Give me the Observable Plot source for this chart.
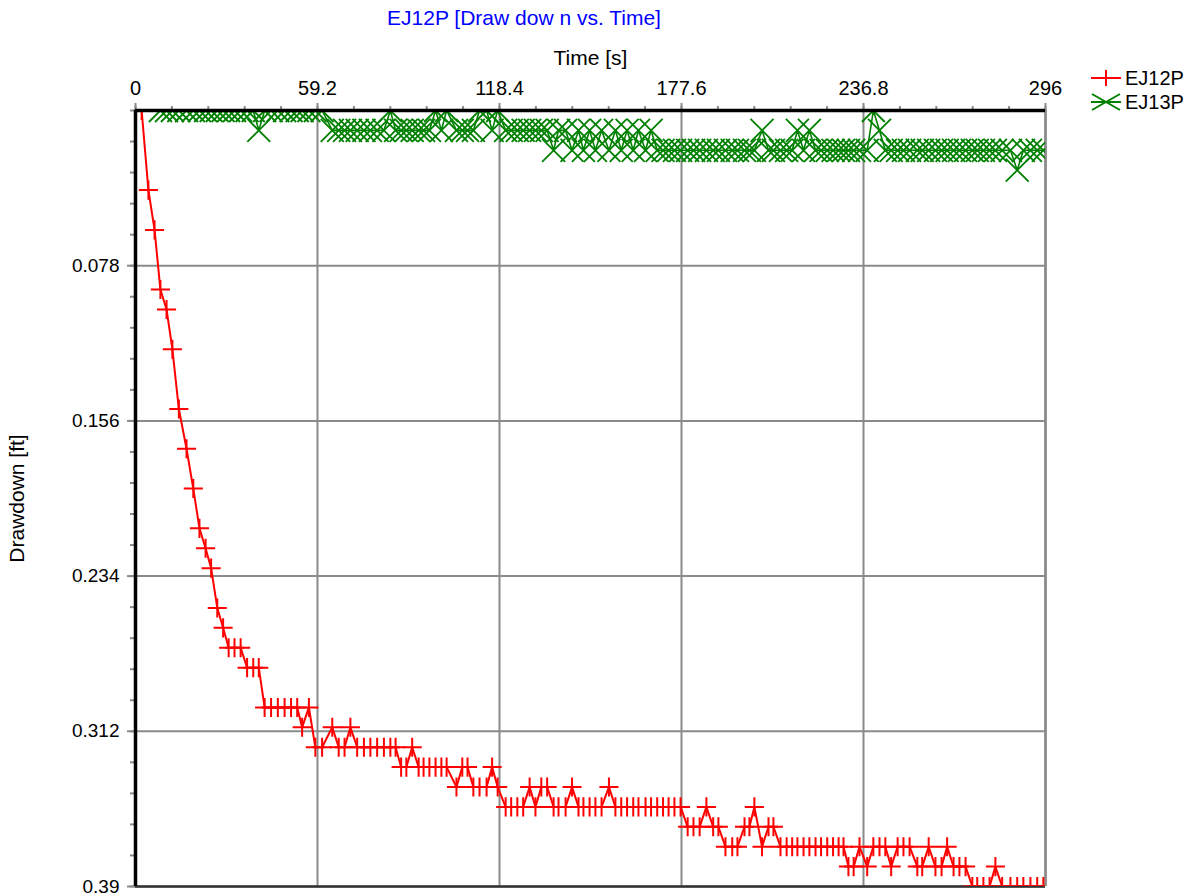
<!DOCTYPE html>
<html>
<head>
<meta charset="utf-8">
<script src="https://cdn.jsdelivr.net/npm/d3@7"></script>
<script src="https://cdn.jsdelivr.net/npm/@observablehq/plot@0.6"></script>
<style>
  html, body { margin: 0; padding: 0; background: #fff; }
  svg { display: block; }
</style>
</head>
<body>
<div id="chart"></div>
<script>
// ---- data ----
const chartTitle = "EJ12P [Draw dow n vs. Time]";
const xLabel = "Time [s]";
const yLabel = "Drawdown [ft]";
const seriesNames = ["EJ12P", "EJ13P"];
const seriesColors = ["#ff0000", "#008000"];
const xTicks = [0, 59.2, 118.4, 177.6, 236.8, 296];
const yTicks = [0.078, 0.156, 0.234, 0.312, 0.39];

const timeS = [
  2.0, 4.2, 6.2, 8.1, 10.1, 12.0, 14.1, 16.6, 18.8, 20.8,
  22.8, 24.6, 26.6, 28.5, 30.3, 32.2, 34.2, 36.3, 38.3, 40.1,
  42.0, 44.1, 46.3, 48.5, 50.6, 52.6, 54.2, 56.4, 58.5, 60.7,
  64.0, 66.1, 68.0, 69.9, 72.1, 74.3, 76.4, 78.6, 80.8, 82.9,
  84.6, 86.4, 88.1, 90.0, 92.1, 93.7, 95.6, 97.6, 99.5, 101.2,
  104.4, 106.3, 108.0, 109.9, 111.9, 114.2, 116.0, 117.8, 120.4, 122.2,
  124.2, 126.1, 128.2, 130.1, 132.0, 133.9, 136.0, 137.6, 139.9, 142.0,
  144.1, 145.7, 147.7, 149.6, 151.6, 154.0, 156.1, 158.0, 159.9, 161.9,
  163.6, 165.9, 167.7, 169.7, 171.6, 173.4, 175.3, 177.3, 179.6, 181.5,
  183.5, 185.7, 187.9, 189.6, 191.9, 194.1, 195.8, 198.1, 199.7, 201.3,
  203.8, 205.9, 207.5, 209.8, 211.8, 213.6, 215.3, 217.3, 219.2, 221.2,
  223.0, 225.0, 226.9, 228.7, 230.3, 231.9, 233.6, 235.5, 238.0, 240.0,
  242.0, 243.9, 245.8, 247.9, 249.8, 251.8, 254.3, 255.9, 258.0, 260.2,
  262.2, 264.0, 266.1, 268.0, 270.0, 272.2, 273.8, 275.8, 277.8, 279.7,
  281.9, 284.6, 286.8, 288.8, 291.1, 293.3, 295.3
];

const ej12p = [
  0.00, 0.04, 0.06, 0.09, 0.10, 0.12, 0.15, 0.17, 0.19, 0.21,
  0.22, 0.23, 0.25, 0.26, 0.27, 0.27, 0.27, 0.28, 0.28, 0.28,
  0.30, 0.30, 0.30, 0.30, 0.30, 0.30, 0.31, 0.30, 0.32, 0.32,
  0.31, 0.32, 0.32, 0.31, 0.32, 0.32, 0.32, 0.32, 0.32, 0.32,
  0.32, 0.33, 0.33, 0.32, 0.33, 0.33, 0.33, 0.33, 0.33, 0.33,
  0.34, 0.33, 0.33, 0.34, 0.34, 0.34, 0.33, 0.34, 0.35, 0.35,
  0.35, 0.35, 0.34, 0.35, 0.34, 0.34, 0.35, 0.35, 0.35, 0.34,
  0.35, 0.35, 0.35, 0.35, 0.35, 0.34, 0.35, 0.35, 0.35, 0.35,
  0.35, 0.35, 0.35, 0.35, 0.35, 0.35, 0.35, 0.35, 0.36, 0.36,
  0.36, 0.35, 0.36, 0.36, 0.37, 0.37, 0.37, 0.36, 0.36, 0.35,
  0.37, 0.36, 0.36, 0.37, 0.37, 0.37, 0.37, 0.37, 0.37, 0.37,
  0.37, 0.37, 0.37, 0.37, 0.37, 0.38, 0.38, 0.37, 0.38, 0.37,
  0.37, 0.37, 0.38, 0.37, 0.37, 0.37, 0.38, 0.38, 0.37, 0.38,
  0.38, 0.37, 0.38, 0.38, 0.38, 0.39, 0.39, 0.39, 0.39, 0.38,
  0.39, 0.39, 0.39, 0.39, 0.39, 0.39, 0.39
];

const ej13p = [
  null, null, null, 0.00, 0.00, 0.00, 0.00, 0.00, 0.00, 0.00,
  0.00, 0.00, 0.00, 0.00, 0.00, 0.00, 0.00, 0.00, 0.00, 0.01,
  0.00, 0.00, 0.00, 0.00, 0.00, 0.00, 0.00, 0.00, 0.00, 0.00,
  0.01, 0.01, 0.01, 0.01, 0.01, 0.01, 0.01, 0.01, 0.01, 0.00,
  0.01, 0.01, 0.01, 0.01, 0.01, 0.01, 0.01, 0.00, 0.01, 0.00,
  0.01, 0.01, 0.01, 0.01, 0.00, 0.00, 0.01, 0.00, 0.01, 0.01,
  0.01, 0.01, 0.01, 0.01, 0.01, 0.01, 0.02, 0.01, 0.01, 0.02,
  0.01, 0.02, 0.01, 0.02, 0.01, 0.02, 0.01, 0.02, 0.01, 0.02,
  0.01, 0.02, 0.01, 0.02, 0.02, 0.02, 0.02, 0.02, 0.02, 0.02,
  0.02, 0.02, 0.02, 0.02, 0.02, 0.02, 0.02, 0.02, 0.02, 0.02,
  0.01, 0.02, 0.02, 0.02, 0.02, 0.02, 0.01, 0.02, 0.01, 0.02,
  0.02, 0.02, 0.02, 0.02, 0.02, 0.02, 0.02, 0.02, 0.02, 0.00,
  0.01, 0.02, 0.02, 0.02, 0.02, 0.02, 0.02, 0.02, 0.02, 0.02,
  0.02, 0.02, 0.02, 0.02, 0.02, 0.02, 0.02, 0.02, 0.02, 0.02,
  0.02, 0.02, 0.03, 0.02, 0.02, 0.02, 0.02
];

// ---- tables built from the arrays ----
const rows12 = timeS.map((t, i) => ({t, d: ej12p[i]}));
const rows13 = timeS.map((t, i) => ({t, d: ej13p[i]})).filter(r => r.d != null);
const xMinor = d3.range(0, 296 + 1e-9, 296 / 25);
const yMinor = d3.range(0, 0.39 + 1e-9, 0.39 / 25);

const FONT = "'Liberation Sans', Arial, Helvetica, sans-serif";
const gridColor = "#8a8a8a";

const chart = Plot.plot({
  width: 1199,
  height: 896,
  marginLeft: 135,
  marginRight: 154,
  marginTop: 110,
  marginBottom: 10,
  style: {fontFamily: FONT, fontSize: "19px", color: "#000", background: "#fff", overflow: "visible"},
  x: {domain: [0, 296]},
  y: {domain: [0, 0.39], reverse: true},
  marks: [
    Plot.gridX(xTicks, {stroke: gridColor, strokeOpacity: 1, strokeWidth: 2}),
    Plot.gridY(yTicks, {stroke: gridColor, strokeOpacity: 1, strokeWidth: 2}),
    Plot.axisX(xMinor, {anchor: "top", tickSize: 5, stroke: gridColor, strokeWidth: 2, tickFormat: () => "", label: null}),
    Plot.axisY(yMinor, {anchor: "left", tickSize: 5, stroke: gridColor, strokeWidth: 2, tickFormat: () => "", label: null}),
    Plot.axisX(xTicks, {
      anchor: "top", tickSize: 8, tickPadding: 8, stroke: gridColor, strokeWidth: 2,
      tickFormat: d => String(d), fontSize: 20,
      label: xLabel, labelAnchor: "center", labelOffset: 60, labelArrow: "none"
    }),
    Plot.axisY(yTicks, {
      anchor: "left", tickSize: 8, tickPadding: 8, stroke: gridColor, strokeWidth: 2,
      tickFormat: d => String(d), fontSize: 19,
      label: yLabel, labelAnchor: "center", labelOffset: 126, labelArrow: "none"
    }),
    Plot.ruleX([296], {stroke: gridColor, strokeWidth: 2.5}),
    Plot.ruleY([0.39], {stroke: "#333", strokeWidth: 2.5}),
    Plot.line(rows13, {x: "t", y: "d", stroke: seriesColors[1], strokeWidth: 1.6, clip: true}),
    Plot.dot(rows13, {x: "t", y: "d", symbol: "times", r: 10.5, stroke: seriesColors[1], strokeWidth: 1.8, clip: true}),
    Plot.line(rows12, {x: "t", y: "d", stroke: seriesColors[0], strokeWidth: 2, clip: true}),
    Plot.dot(rows12, {x: "t", y: "d", symbol: "plus", r: 6.2, stroke: seriesColors[0], strokeWidth: 2, clip: true}),
    Plot.ruleX([0], {stroke: "#000", strokeWidth: 3.5}),
    Plot.ruleY([0], {stroke: "#000", strokeWidth: 3.5})
  ]
});

document.getElementById("chart").appendChild(chart);

// enlarge axis label text a little
d3.select(chart).selectAll("[aria-label='x-axis label'] text, [aria-label='y-axis label'] text")
  .attr("font-size", 21);

// title and legend added to the same svg
const svg = d3.select(chart);
svg.append("text")
  .attr("x", 524).attr("y", 25)
  .attr("text-anchor", "middle")
  .attr("fill", "#0000ff")
  .attr("font-family", FONT)
  .attr("font-size", 21)
  .text(chartTitle);

const legend = svg.append("g").attr("font-family", FONT).attr("font-size", 20).attr("text-anchor", "start");
seriesNames.forEach((name, i) => {
  const cy = 78 + 24 * i;
  const g = legend.append("g").attr("transform", `translate(1106,${cy})`);
  g.append("line").attr("x1", -15).attr("x2", 15).attr("y1", 0).attr("y2", 0)
    .attr("stroke", seriesColors[i]).attr("stroke-width", 2);
  if (i === 0) {
    g.append("path").attr("d", "M-14,0H14M0,-8V8").attr("stroke", seriesColors[i]).attr("stroke-width", 2).attr("fill", "none");
  } else {
    g.append("path").attr("d", "M-14,-8L14,8M-14,8L14,-8").attr("stroke", seriesColors[i]).attr("stroke-width", 2).attr("fill", "none");
  }
  legend.append("text").attr("x", 1125).attr("y", cy + 7).attr("fill", "#000").text(name);
});
</script>
</body>
</html>
